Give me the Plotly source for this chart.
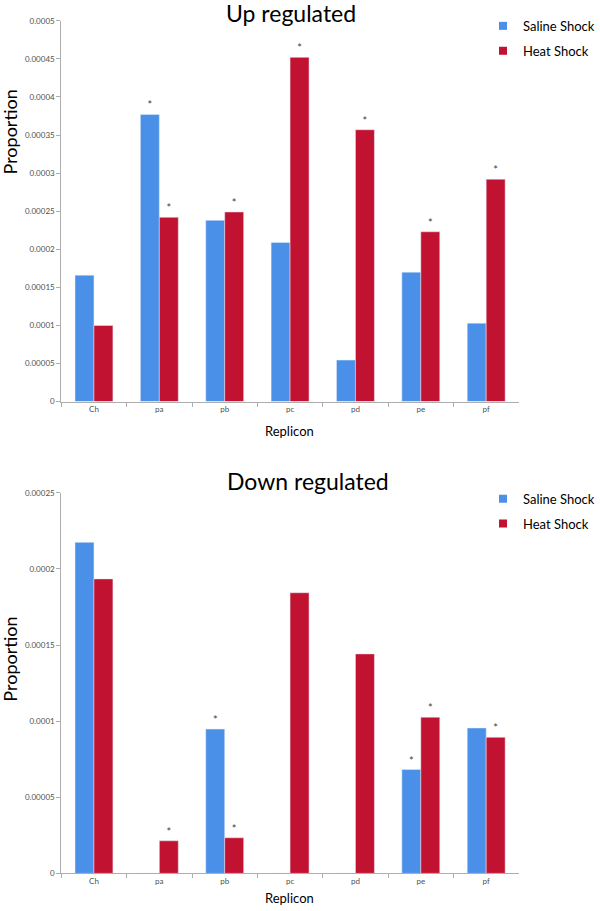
import plotly.graph_objects as go

categories = ["Ch", "pa", "pb", "pc", "pd", "pe", "pf"]

up_saline = [0.000166, 0.000377, 0.000238, 0.000209, 0.0000545, 0.000170, 0.000103]
up_heat = [0.000100, 0.000242, 0.000249, 0.000452, 0.000357, 0.000223, 0.000292]
up_saline_sig = ["", "*", "", "", "", "", ""]
up_heat_sig = ["", "*", "*", "*", "*", "*", "*"]

down_saline = [0.0002175, 0, 0.0000948, 0, 0, 0.0000682, 0.0000955]
down_heat = [0.0001935, 0.0000214, 0.0000234, 0.0001844, 0.0001442, 0.0001026, 0.0000894]
down_saline_sig = ["", "", "*", "", "", "*", ""]
down_heat_sig = ["", "*", "*", "", "", "*", "*"]

up_ticks = [0, 0.00005, 0.0001, 0.00015, 0.0002, 0.00025, 0.0003, 0.00035, 0.0004, 0.00045, 0.0005]
up_ticktext = ["0", "0.00005", "0.0001", "0.00015", "0.0002", "0.00025", "0.0003", "0.00035", "0.0004", "0.00045", "0.0005"]
down_ticks = [0, 0.00005, 0.0001, 0.00015, 0.0002, 0.00025]
down_ticktext = ["0", "0.00005", "0.0001", "0.00015", "0.0002", "0.00025"]

BLUE = "#4A8FE8"
RED = "#C21232"
AXIS = "#ADADAD"
FONT = "Lato"
W, H = 600, 911


def px(x):
    return x / W


def py(y):
    return 1 - y / H


fig = go.Figure()

txtfont = dict(family=FONT, size=11, color="#404040")

for vals, sig, col, xa, ya in [(up_saline, up_saline_sig, BLUE, "x", "y"),
                               (up_heat, up_heat_sig, RED, "x", "y"),
                               (down_saline, down_saline_sig, BLUE, "x2", "y2"),
                               (down_heat, down_heat_sig, RED, "x2", "y2")]:
    fig.add_trace(go.Bar(x=categories, y=vals, marker_color=col, text=sig,
                         textposition="outside", textfont=txtfont, cliponaxis=False,
                         showlegend=False, xaxis=xa, yaxis=ya, hoverinfo="y"))

# legend entries
for name, col, lg, grp in [("Saline Shock", BLUE, "legend", "a"), ("Heat Shock", RED, "legend", "b"),
                           ("Saline Shock", BLUE, "legend2", "c"), ("Heat Shock", RED, "legend2", "d")]:
    fig.add_trace(go.Scatter(x=[None], y=[None], mode="markers", name=name,
                             marker=dict(symbol="square", size=8, color=col),
                             legend=lg, legendgroup=grp, showlegend=True,
                             xaxis="x" if lg == "legend" else "x2",
                             yaxis="y" if lg == "legend" else "y2"))

tickfont = dict(family=FONT, size=8, color="#505050")
xdom = [px(62), px(525)]

common_x = dict(showline=True, linecolor=AXIS, linewidth=1, ticks="outside", ticklen=4,
                tickcolor=AXIS, tickson="boundaries", tickfont=tickfont, showgrid=False,
                fixedrange=True, zeroline=False)
common_y = dict(showline=True, linecolor=AXIS, linewidth=1, ticks="outside", ticklen=4,
                tickcolor=AXIS, tickfont=tickfont, showgrid=False, zeroline=False,
                tickmode="array")

legend_common = dict(font=dict(family=FONT, size=13, color="#000000"), bgcolor="rgba(0,0,0,0)",
                     xanchor="left", yanchor="top", tracegroupgap=5, itemclick=False)


def ann(text, x, y, size, angle=0):
    return dict(text=text, x=px(x), y=py(y), xref="paper", yref="paper",
                showarrow=False, textangle=angle, font=dict(family=FONT, size=size, color="#000000"),
                xanchor="center", yanchor="middle")


fig.update_layout(
    width=W, height=H, autosize=False,
    margin=dict(l=0, r=0, t=0, b=0),
    paper_bgcolor="white", plot_bgcolor="white",
    barmode="group", bargap=0.42, bargroupgap=0,
    xaxis=dict(domain=xdom, anchor="y", **common_x),
    yaxis=dict(domain=[py(401), py(16)], anchor="x", range=[0, 0.0005],
               tickvals=up_ticks, ticktext=up_ticktext, **common_y),
    xaxis2=dict(domain=xdom, anchor="y2", **common_x),
    yaxis2=dict(domain=[py(878), py(493.3)], anchor="x2", range=[0, 0.00025],
                tickvals=down_ticks, ticktext=down_ticktext, **common_y),
    legend=dict(x=px(489), y=py(6), **legend_common),
    legend2=dict(x=px(489), y=py(484), **legend_common),
    annotations=[
        ann("Up regulated", 294, 8, 23),
        ann("Down regulated", 312, 481, 23),
        ann("Proportion", 10, 128, 18, -90),
        ann("Proportion", 10, 661, 18, -90),
        ann("Replicon", 293, 431, 13),
        ann("Replicon", 293, 903, 13),
    ],
)

# remove the browser's default 8px body margin so the 600x911 figure fills the window exactly
fig.write_html("out.html", config={"displayModeBar": False},
               post_script="document.body.style.margin='0';document.body.style.overflow='hidden';")
